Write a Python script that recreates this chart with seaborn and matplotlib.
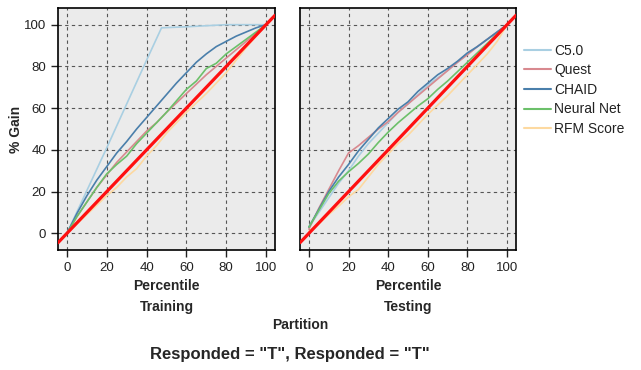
import matplotlib
matplotlib.use("Agg")
import matplotlib.pyplot as plt
import seaborn as sns
import pandas as pd

percentile = [0, 5, 10, 15, 20, 25, 30, 35, 40, 45, 50, 55, 60, 65, 70, 75, 80, 85, 90, 95, 100]

# C5.0 on the training partition is sampled at its own percentiles (sharp knee)
train_c50_pct = [0, 10, 20, 30, 40, 47.5, 60, 70, 80, 90, 100]
train_c50 = [0, 20.5, 41, 62, 83, 98.5, 99, 99.5, 100, 100, 100]
train_quest = [0, 8, 15, 22, 28, 34, 39, 44, 49, 53, 58, 62.5, 67, 71.5, 76, 80, 84, 88, 92, 96, 100]
train_chaid = [0, 9.5, 18, 25.5, 32, 38.5, 44, 50, 55.5, 61, 66.5, 72, 77, 82, 86, 89.5, 92, 94.5, 96.5, 98.5, 100]
train_nn = [0, 8, 15, 22, 28.5, 33, 37, 43, 48, 53, 58, 63.5, 69, 73, 79, 81.5, 86, 89.5, 93, 96.5, 100]
train_rfm = [0, 4.5, 9, 13.5, 18, 22, 27, 31, 37, 42, 48, 53, 58, 62.5, 67, 72, 77, 83, 89, 94.5, 100]

test_c50 = [3, 10, 17, 24, 30, 37, 43, 48, 53, 58, 62, 66.5, 71, 74.5, 78, 82, 86, 89.5, 93, 96.5, 100]
test_quest = [2, 12, 21, 30, 38.5, 42, 46, 50, 53.5, 58, 62, 66, 70, 74, 78, 82, 85.6, 89.5, 93, 96.5, 100]
test_chaid = [3, 11.5, 20, 27, 33, 39.5, 45, 50.5, 55, 59.5, 63, 68, 72, 76, 79, 82.5, 86.5, 89.5, 93, 96.5, 100]
test_nn = [3, 11, 19, 25, 29.5, 33.5, 38, 43.5, 48.5, 53, 57, 61, 64.5, 69, 73, 77.5, 82, 86.5, 91, 95.5, 100]
test_rfm = [1, 4.5, 9, 13, 17.5, 21, 27, 33, 38, 43, 47, 52, 57, 61.5, 66, 71, 76, 81, 86, 92, 100]

models = ["C5.0", "Quest", "CHAID", "Neural Net", "RFM Score"]
colors = ["#a9cfe2", "#d8898f", "#4a7fab", "#6cc06a", "#fdd9a0"]
baseline = [0, 100]

x_ticks = [0, 20, 40, 60, 80, 100]
y_ticks = [0, 20, 40, 60, 80, 100]

def long_frame(series):
    rows = []
    for name, (pcts, vals) in zip(models, series):
        for p, v in zip(pcts, vals):
            rows.append({"Percentile": p, "Gain": v, "Model": name})
    return pd.DataFrame(rows)

df_train = long_frame([(train_c50_pct, train_c50), (percentile, train_quest), (percentile, train_chaid),
                       (percentile, train_nn), (percentile, train_rfm)])
df_test = long_frame([(percentile, test_c50), (percentile, test_quest), (percentile, test_chaid),
                      (percentile, test_nn), (percentile, test_rfm)])

sns.set_style("white")
plt.rcParams["font.family"] = ["Liberation Sans", "DejaVu Sans"]

fig = plt.figure(figsize=(6.41, 3.70), dpi=100)
ax1 = fig.add_axes([58 / 641, 1 - 250 / 370, 217 / 641, 242 / 370])
ax2 = fig.add_axes([300 / 641, 1 - 250 / 370, 216 / 641, 242 / 370])

palette = dict(zip(models, colors))

for ax, df, part in [(ax1, df_train, "Training"), (ax2, df_test, "Testing")]:
    ax.set_facecolor("#ebebeb")
    sns.lineplot(data=df, x="Percentile", y="Gain", hue="Model", palette=palette,
                 hue_order=models, ax=ax, linewidth=1.2, legend=(ax is ax2))
    ax.axline((baseline[0], baseline[0]), (baseline[1], baseline[1]), color="#ff1010", linewidth=2.3, zorder=5)
    ax.set_xlim(-4.5, 104.5)
    ax.set_ylim(-8, 108)
    ax.set_xticks(x_ticks)
    ax.set_yticks(y_ticks)
    ax.grid(True, color="#555555", linestyle=(0, (3, 3)), linewidth=0.8)
    ax.set_axisbelow(True)
    for s in ax.spines.values():
        s.set_color("black")
        s.set_linewidth(1.2)
    ax.tick_params(axis="both", labelsize=9.5, colors="#222222", length=5, width=1, direction="out",
                   bottom=True, left=(ax is ax1))
    ax.set_xlabel("Percentile\n" + part, fontsize=10, fontweight="bold", linespacing=1.6, labelpad=4)
    if ax is ax1:
        ax.set_ylabel("% Gain", fontsize=10, fontweight="bold", labelpad=1)
    else:
        ax.set_ylabel("")
        ax.tick_params(axis="y", labelleft=False, left=False)

leg = ax2.legend(loc="upper left", bbox_to_anchor=(1.01, 0.875), frameon=False, fontsize=10,
                 handlelength=2.0, handletextpad=0.2, labelspacing=0.4, borderaxespad=0)
for line in leg.get_lines():
    line.set_linewidth(1.5)
for t in leg.get_texts():
    t.set_color("#222222")

fig.text(300 / 641, 1 - 325 / 370, "Partition", ha="center", va="center", fontsize=10, fontweight="bold")
fig.text(290 / 641, 1 - 354 / 370, 'Responded = "T", Responded = "T"', ha="center", va="center",
         fontsize=12, fontweight="bold")

fig.savefig("out.png", dpi=100)
